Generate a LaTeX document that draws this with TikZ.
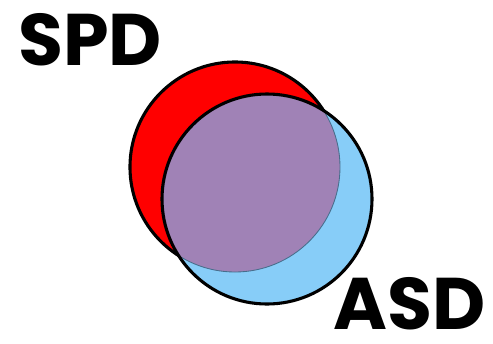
\documentclass[tikz,border=0pt]{standalone}
\usepackage{fontspec}
\newfontfamily\labelfont{Poppins}
\definecolor{spdred}{RGB}{255,0,0}
\definecolor{asdblue}{RGB}{135,205,248}
\definecolor{bothmix}{RGB}{160,130,182}
\definecolor{rimline}{RGB}{70,110,140}
\usetikzlibrary{positioning}

\begin{document}
\begin{tikzpicture}[
    x=0.025cm, y=-0.025cm,
    setcircle/.style={circle, minimum size=5.25cm, inner sep=0pt},
    set label/.style={font=\labelfont\bfseries\fontsize{52}{56}\selectfont, inner sep=0pt}
]
\useasboundingbox (0,0) rectangle (493,343);

% Sets
\node[setcircle, fill=spdred, draw, line width=2.2pt] (SPD) at (235,167) {};
\node[setcircle, fill=asdblue] (ASD) at (267,199) {};

% Overlap
\begin{scope}
\clip (SPD.center) circle (105);
\fill[bothmix] (ASD.center) circle (105);
\end{scope}
\begin{scope}
\clip (ASD.center) circle (105);
\draw[rimline, line width=0.6pt] (SPD.center) circle (105);
\end{scope}
\draw[line width=2.2pt] (ASD.center) circle (105);

% Labels
\node[set label] (spdtext) at (90,40) {SPD};
\node[set label] (asdtext) at (410,304) {ASD};

\end{tikzpicture}
\end{document}
